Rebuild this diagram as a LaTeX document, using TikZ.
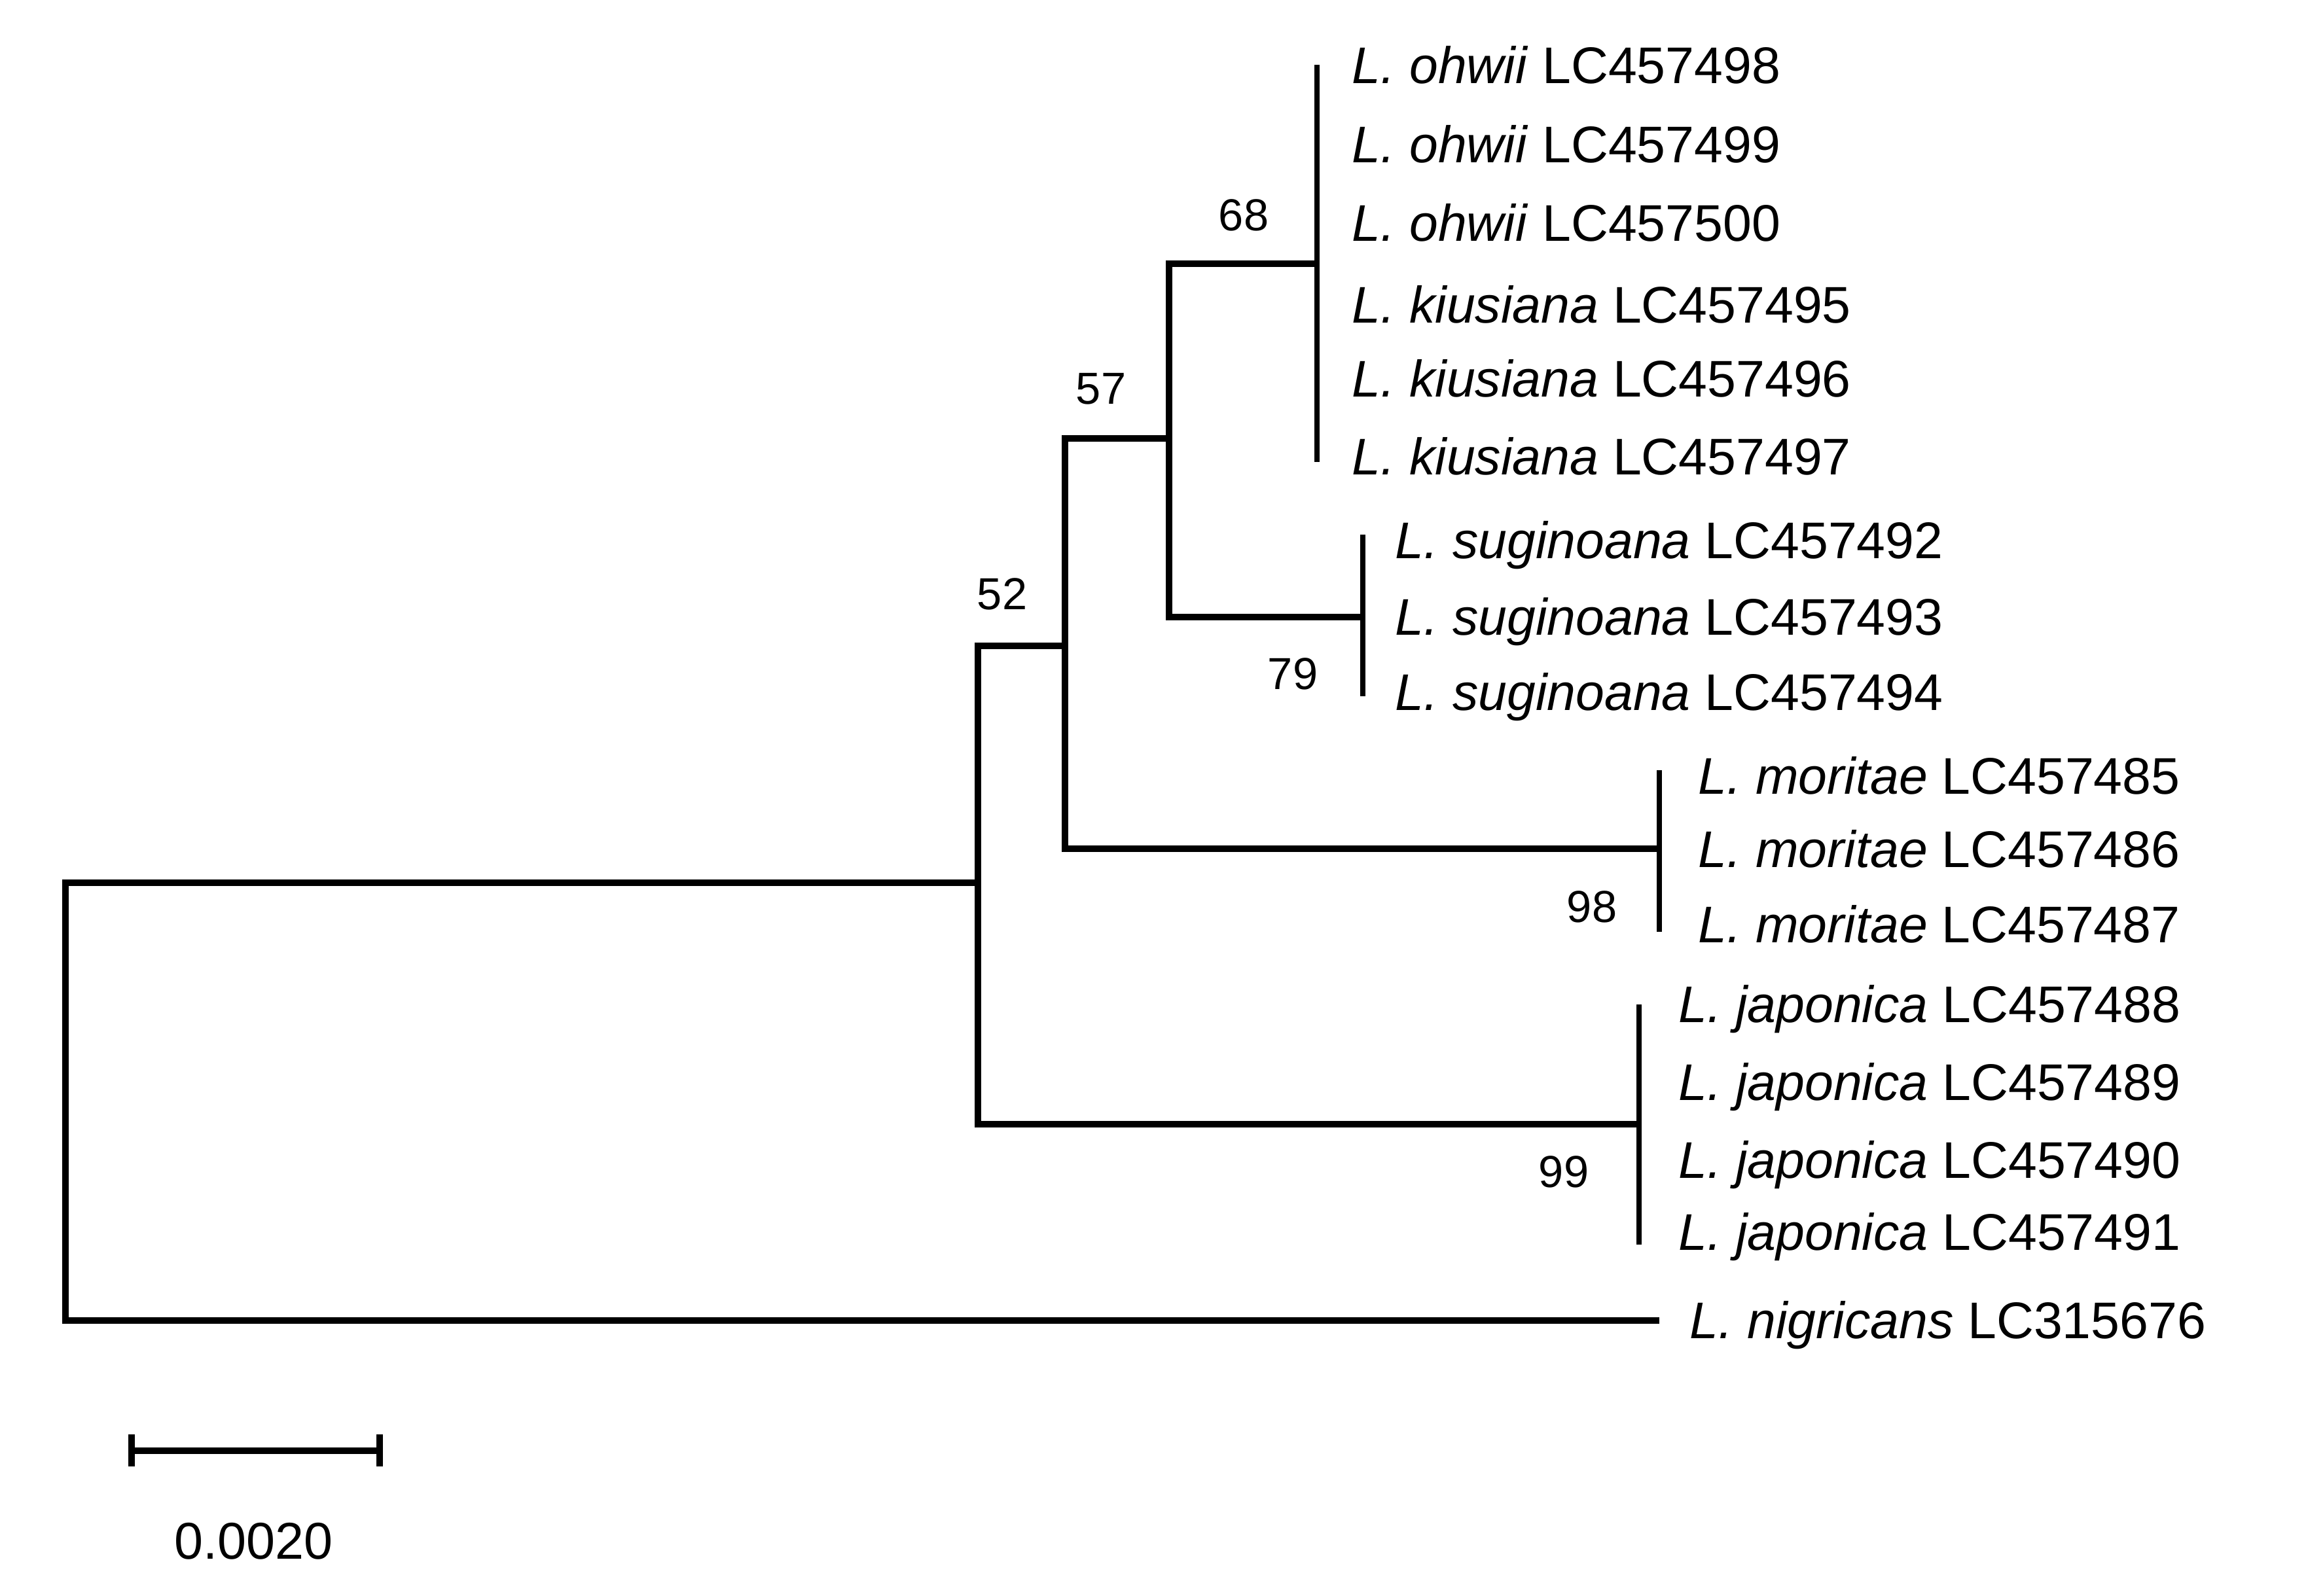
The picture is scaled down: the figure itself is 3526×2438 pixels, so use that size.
\documentclass[tikz,border=0pt]{standalone}
\usepackage{fontspec}
\setmainfont{Liberation Sans}
\begin{document}
\begin{tikzpicture}[x=0.01cm,y=-0.01cm,
  branch/.style={line width=2.85pt},
  tipbar/.style={line width=2.2pt},
  taxon/.style={anchor=base west,inner sep=0pt,font=\fontsize{22.4}{27}\selectfont},
  support/.style={anchor=center,inner sep=0pt,font=\fontsize{19.5}{23}\selectfont},
  scaletext/.style={anchor=center,inner sep=0pt,font=\fontsize{22.5}{26}\selectfont}]
\useasboundingbox[fill=white] (0,0) rectangle (3526,2438);
% internal nodes
\coordinate (R) at (100,1349);
\coordinate (A) at (1494,1349);
\coordinate (B) at (1627,987);
\coordinate (C) at (1786,670);
\coordinate (D) at (2012,403);
\coordinate (S) at (2082,943);
\coordinate (M) at (2535,1297);
\coordinate (J) at (2504,1718);
\coordinate (N) at (2535,2018);
% terminal clade bars
\coordinate (Dt) at (2012,99);  \coordinate (Db) at (2012,706);
\coordinate (St) at (2082,817); \coordinate (Sb) at (2082,1064);
\coordinate (Mt) at (2535,1177);\coordinate (Mb) at (2535,1424);
\coordinate (Jt) at (2504,1535);\coordinate (Jb) at (2504,1902);
% branches
\draw[branch] (A) -- (R) |- (N);
\draw[branch] (B) -| (A) |- (J);
\draw[branch] (C) -| (B) |- (M);
\draw[branch] (D) -| (C) |- (S);
\draw[tipbar] (Dt) -- (Db);
\draw[tipbar] (St) -- (Sb);
\draw[tipbar] (Mt) -- (Mb);
\draw[tipbar] (Jt) -- (Jb);
% support values
\node[support] (s68) at (1900,329) {68};
\node[support] (s57) at (1682,594) {57};
\node[support] (s52) at (1531,908) {52};
\node[support] (s79) at (1975,1030) {79};
\node[support] (s98) at (2432,1386) {98};
\node[support] (s99) at (2389,1791) {99};
% taxa
\node[taxon] (t1) at (2065,127) {\textit{L. ohwii} LC457498};
\node[taxon] (t2) at (2065,248) {\textit{L. ohwii} LC457499};
\node[taxon] (t3) at (2065,368) {\textit{L. ohwii} LC457500};
\node[taxon] (t4) at (2065,493) {\textit{L. kiusiana} LC457495};
\node[taxon] (t5) at (2065,606) {\textit{L. kiusiana} LC457496};
\node[taxon] (t6) at (2065,725) {\textit{L. kiusiana} LC457497};
\node[taxon] (t7) at (2131,853) {\textit{L. suginoana} LC457492};
\node[taxon] (t8) at (2131,970) {\textit{L. suginoana} LC457493};
\node[taxon] (t9) at (2131,1085) {\textit{L. suginoana} LC457494};
\node[taxon] (t10) at (2594,1213) {\textit{L. moritae} LC457485};
\node[taxon] (t11) at (2594,1325) {\textit{L. moritae} LC457486};
\node[taxon] (t12) at (2594,1440) {\textit{L. moritae} LC457487};
\node[taxon] (t13) at (2564,1562) {\textit{L. japonica} LC457488};
\node[taxon] (t14) at (2564,1681) {\textit{L. japonica} LC457489};
\node[taxon] (t15) at (2564,1800) {\textit{L. japonica} LC457490};
\node[taxon] (t16) at (2564,1910) {\textit{L. japonica} LC457491};
\node[taxon] (t17) at (2581,2045) {\textit{L. nigricans} LC315676};
% scale bar
\coordinate (SL) at (201,2217);
\coordinate (SR) at (580,2217);
\coordinate (SLt) at (201,2192); \coordinate (SLb) at (201,2241);
\coordinate (SRt) at (580,2192); \coordinate (SRb) at (580,2241);
\draw[branch] (SL) -- (SR);
\draw[branch] (SLt) -- (SLb);
\draw[branch] (SRt) -- (SRb);
\node[scaletext] (sc) at (388,2355) {0.0020};
\end{tikzpicture}
\end{document}
